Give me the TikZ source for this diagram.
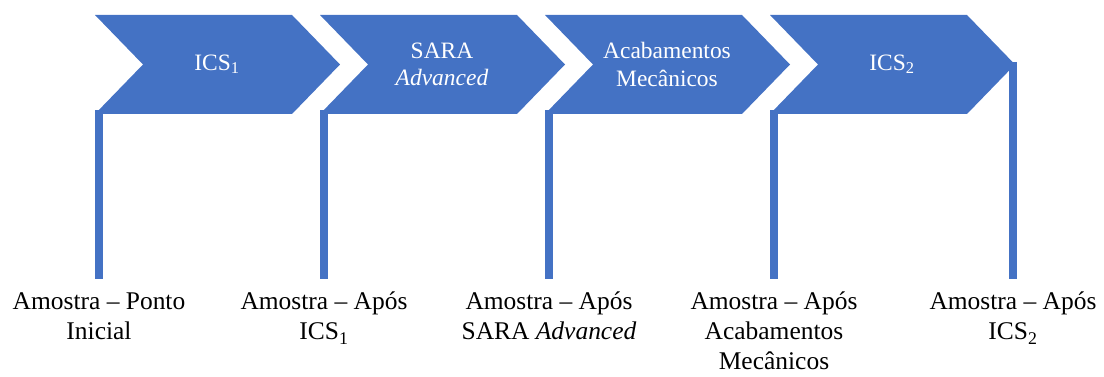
\documentclass[tikz,border=0pt]{standalone}
\usepackage{fontspec}
\setmainfont{Liberation Serif}
\usetikzlibrary{positioning}
\definecolor{stageblue}{HTML}{4472C4}

\begin{document}
\begin{tikzpicture}[
  x=0.75pt, y=-0.75pt,
  stage/.style={fill=stageblue},
  stagetext/.style={text=white, align=center, inner sep=0pt,
                    font=\fontsize{17.6}{20.3}\selectfont},
  bar/.style={draw=stageblue, line width=6pt},
  sample/.style={align=center, anchor=north, inner sep=0pt,
                 font=\fontsize{19.1}{22.5}\selectfont}
]
\useasboundingbox (0,0) rectangle (1104,377);

% chevrons of the process
\foreach \i/\lx/\txt in {1/95/{ICS\textsubscript{1}},
                         2/320/{SARA\\\textit{Advanced}},
                         3/545/{Acabamentos\\Mecânicos},
                         4/770/{ICS\textsubscript{2}}} {
  \fill[stage] (\lx,15) -- ++(197,0) -- ++(48,49.5) -- ++(-48,49.5)
               -- ++(-197,0) -- ++(48,-49.5) -- cycle;
  \node[stagetext] (stage\i) at (\lx+122,64.5) {\txt};
}

% sampling points
\foreach \i/\bx/\by/\txt in {1/99/110/{Amostra – Ponto\\Inicial},
                             2/324/110/{Amostra – Após\\ICS\textsubscript{1}},
                             3/549/110/{Amostra – Após\\SARA \textit{Advanced}},
                             4/774/110/{Amostra – Após\\Acabamentos\\Mecânicos},
                             5/1013/62/{Amostra – Após\\ICS\textsubscript{2}}} {
  \coordinate (top\i) at (\bx,\by);
  \coordinate (end\i) at (\bx,279);
  \draw[bar] (top\i) -- (end\i);
  \node[sample] (sample\i) at (\bx,292) {\txt};
}
\end{tikzpicture}
\end{document}
